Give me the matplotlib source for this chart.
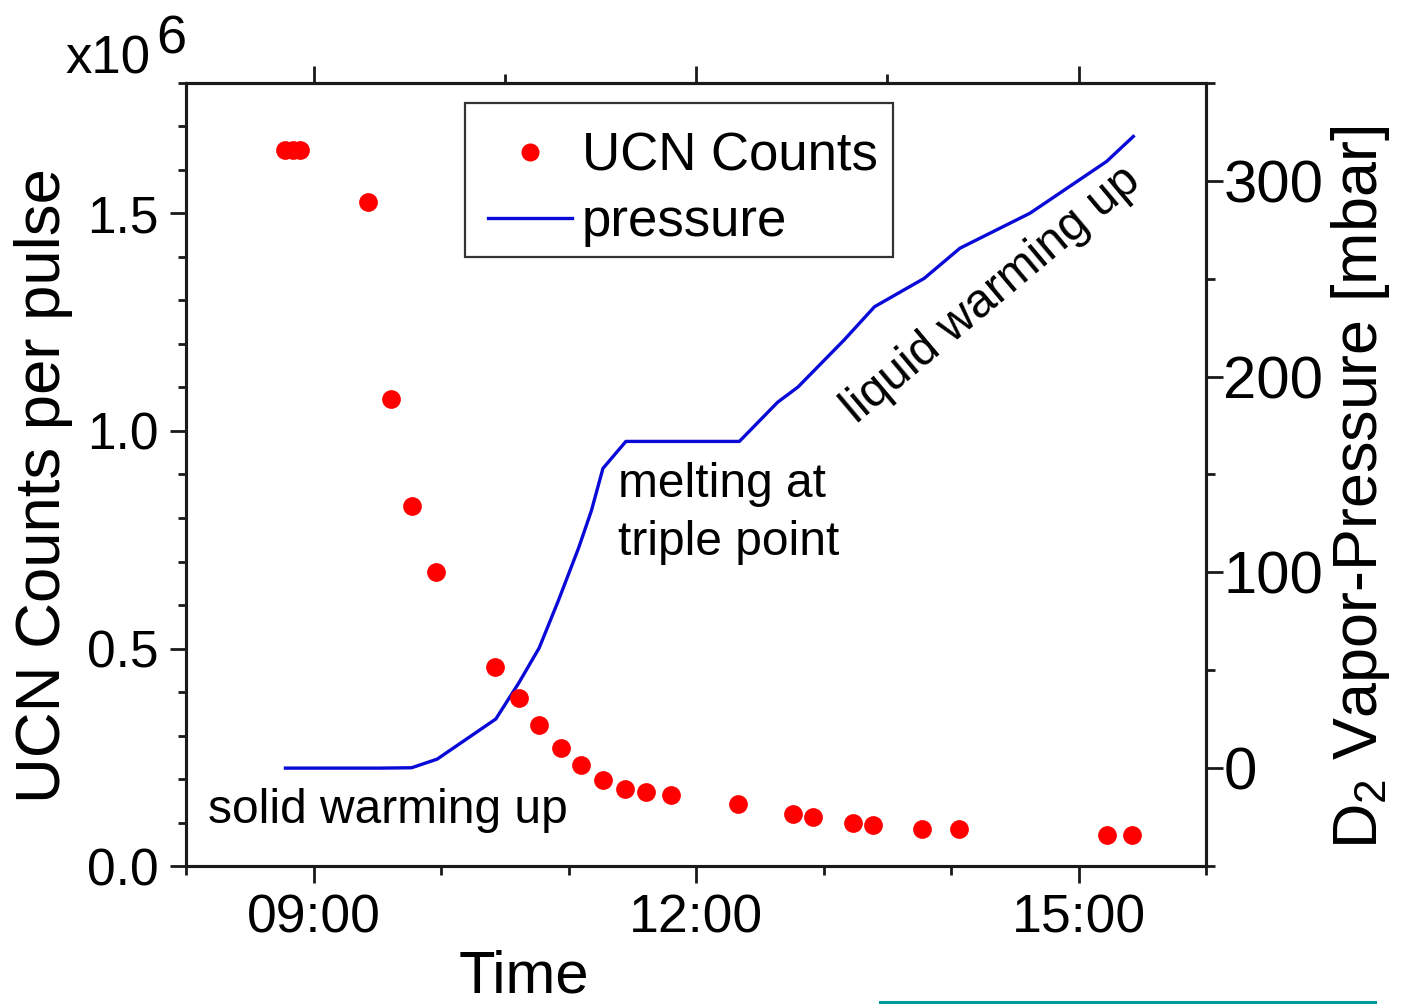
import matplotlib
matplotlib.use("Agg")
import matplotlib.pyplot as plt
from matplotlib.ticker import MultipleLocator, FixedLocator, FuncFormatter, FormatStrFormatter
from matplotlib.lines import Line2D
from matplotlib.patches import Rectangle

plt.rcParams['font.family'] = ['Liberation Sans', 'DejaVu Sans']
plt.rcParams['mathtext.fontset'] = 'custom'
plt.rcParams['mathtext.rm'] = 'Liberation Sans'
plt.rcParams['mathtext.it'] = 'Liberation Sans:italic'

# ---- data (time in hours of day) ----
ucn_time = [8.777, 8.836, 8.895, 9.43, 9.607, 9.776, 9.958, 10.42, 10.61, 10.77,
            10.94, 11.10, 11.27, 11.44, 11.61, 11.80, 12.33, 12.76, 12.92, 13.23,
            13.39, 13.77, 14.06, 15.22, 15.42]
ucn_counts = [1.645, 1.645, 1.647, 1.527, 1.073, 0.828, 0.677, 0.458, 0.386, 0.323,
              0.272, 0.232, 0.198, 0.177, 0.171, 0.163, 0.143, 0.119, 0.113, 0.098,
              0.094, 0.084, 0.084, 0.071, 0.071]

p_time = [8.78, 9.52, 9.77, 9.97, 10.43, 10.61, 10.77, 10.92, 11.08, 11.18, 11.27,
          11.45, 12.34, 12.64, 12.80, 13.16, 13.40, 13.79, 14.07, 14.62, 15.22, 15.43]
pressure = [0, 0, 0.2, 4.6, 25.1, 43.5, 61.4, 85.5, 112.6, 131.6, 153.1,
            166.9, 166.9, 186.9, 194.7, 218.6, 235.7, 250.2, 265.6, 283.5, 309.9, 322.7]

x_major = [9, 12, 15]
top_minor = [10.5, 13.5]
left_major = [0.0, 0.5, 1.0, 1.5]
right_major = [0, 100, 200, 300]

W, H = 1407, 1005
fig = plt.figure(figsize=(W / 100, H / 100), dpi=100)
AX_L, AX_R, AX_T, AX_B = 186, 1206, 83, 866
ax = fig.add_axes([AX_L / W, (H - AX_B) / H, (AX_R - AX_L) / W, (AX_B - AX_T) / H])
ax2 = ax.twinx()
AW, AH = AX_R - AX_L, AX_B - AX_T

spine_c = '#1a1a1a'
lw = 2.2
blue = '#0a0ad8'
red = '#ff0000'

# pressure (right axis)
ax2.plot(p_time, pressure, color=blue, lw=2.4, label='pressure')
# UCN counts (left axis)
ax.plot(ucn_time, ucn_counts, 'o', color=red, markersize=13.5,
        markeredgewidth=0, label='UCN Counts')

ax.set_zorder(ax2.get_zorder() + 1)
ax.patch.set_visible(False)

ax.set_xlim(8, 16)
ax.set_ylim(0, 1.8)
ax2.set_ylim(-50, 350)

for a in (ax, ax2):
    for s in a.spines.values():
        s.set_linewidth(lw)
        s.set_color(spine_c)

# x axis
ax.xaxis.set_major_locator(FixedLocator(x_major))
ax.xaxis.set_minor_locator(MultipleLocator(1))
ax.xaxis.set_major_formatter(FuncFormatter(lambda v, p: f"{int(round(v)):02d}:00"))
ax.yaxis.set_major_locator(FixedLocator(left_major))
ax.yaxis.set_minor_locator(MultipleLocator(0.1))
ax.yaxis.set_major_formatter(FormatStrFormatter('%.1f'))
ax.tick_params(axis='x', which='major', direction='out', length=12, width=2,
               color=spine_c, labelsize=38.5, pad=7.5)
ax.tick_params(axis='x', which='minor', direction='out', length=6.5, width=2, color=spine_c)
ax.tick_params(axis='y', which='major', direction='out', length=11.5, width=2,
               color=spine_c, labelsize=37, pad=8.5)
ax.tick_params(axis='y', which='minor', direction='out', length=6, width=2, color=spine_c)

ax2.yaxis.set_major_locator(FixedLocator(right_major))
ax2.yaxis.set_minor_locator(MultipleLocator(50))
ax2.tick_params(axis='y', which='major', direction='out', length=12, width=2,
                color=spine_c, labelsize=43, pad=0.5)
ax2.tick_params(axis='y', which='minor', direction='out', length=6.5, width=2, color=spine_c)

# top axis ticks
secx = ax.secondary_xaxis('top')
secx.xaxis.set_major_locator(FixedLocator(x_major))
secx.xaxis.set_minor_locator(FixedLocator(top_minor))
secx.tick_params(axis='x', which='major', direction='out', length=12, width=2,
                 color=spine_c, labeltop=False)
secx.tick_params(axis='x', which='minor', direction='out', length=6.5, width=2, color=spine_c)
secx.spines['top'].set_linewidth(lw)
secx.spines['top'].set_color(spine_c)

# axis labels
ax.set_xlabel('Time', fontsize=43)
ax.xaxis.label.set_va('baseline')
ax.xaxis.set_label_coords((524 - AX_L) / AW, (AX_B - 992) / AH)

ax.set_ylabel('UCN Counts per pulse', fontsize=45.7)
ax.yaxis.label.set_va('baseline')
ax.yaxis.label.set_rotation_mode('anchor')
ax.yaxis.set_label_coords((60 - AX_L) / AW, (AX_B - 486) / AH)

ax2.set_ylabel('D$_2$ Vapor-Pressure [mbar]', fontsize=45.3, rotation=90)
ax2.yaxis.label.set_va('baseline')
ax2.yaxis.label.set_ha('center')
ax2.yaxis.label.set_rotation_mode('anchor')
ax2.yaxis.set_label_coords((1377 - AX_L) / AW, (AX_B - 487) / AH)

# multiplier
fig.text(65 / W, 1 - 74 / H, 'x10', fontsize=38, va='baseline', ha='left')
fig.text(156 / W, 1 - 53 / H, '6', fontsize=39, va='baseline', ha='left')

# annotations
ax.text(8.17, 0.10, 'solid warming up', fontsize=34.5, va='baseline', ha='left')
ax.text(11.39, 0.849, 'melting at', fontsize=34.5, va='baseline', ha='left')
ax.text(11.39, 0.716, 'triple point', fontsize=34.5, va='baseline', ha='left')
ax.text(14.32, 1.314, 'liquid warming up', fontsize=34.5, va='center', ha='center',
        rotation=40, rotation_mode='anchor')

# legend (frame drawn separately)
h1 = Line2D([], [], marker='o', ls='none', color=red, markersize=13, markeredgewidth=0)
h2 = Line2D([], [], color=blue, lw=2.4)
leg = ax.legend([h1, h2], ['UCN Counts', 'pressure'], loc='upper left',
                bbox_to_anchor=(488 / W, 1 - 131 / H), bbox_transform=fig.transFigure,
                fontsize=38, frameon=False, borderpad=0, handlelength=1.6,
                handletextpad=0.18, labelspacing=0.31, borderaxespad=0)
fig.add_artist(Rectangle((465 / W, 1 - 257 / H), 428 / W, 154 / H,
                         transform=fig.transFigure, fill=False,
                         edgecolor='#333333', lw=1.6))

# teal line at the bottom edge
fig.add_artist(Line2D([880 / W, 1375 / W], [1 - 1002 / H, 1 - 1002 / H],
                      transform=fig.transFigure, color='#009a9a', lw=2.2))

fig.savefig('out.png', dpi=100, facecolor='white')
